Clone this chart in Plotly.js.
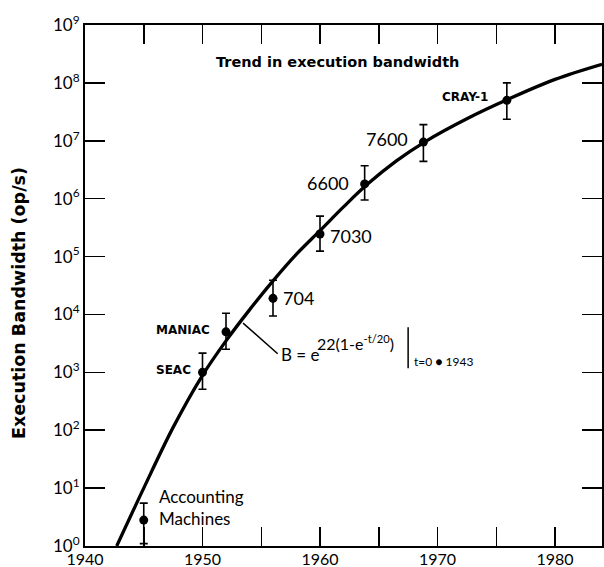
<!DOCTYPE html>
<html>
<head>
<meta charset="utf-8">
<script src="https://cdn.plot.ly/plotly-3.0.1.min.js"></script>
<style>html,body{margin:0;padding:0;background:#fff;}#chart{width:604px;height:567px;}</style>
</head>
<body>
<div id="chart"></div>
<script>
// Machines (points with error bars)
const machineNames = ['Accounting Machines', 'SEAC', 'MANIAC', '704', '7030', '6600', '7600', 'CRAY-1'];
const machineYears = [1945, 1950, 1952, 1956, 1960, 1963.8, 1968.8, 1975.9];
const machineBW    = [2.8, 1000, 5000, 19000, 2.45e5, 1.8e6, 9.5e6, 5e7];
const machineHigh  = [5.5, 2150, 10500, 39000, 5e5, 3.7e6, 1.9e7, 1e8];
const machineLow   = [1.1, 510, 2500, 9400, 1.24e5, 9.5e5, 4.4e6, 2.36e7];

// Trend curve
const trendYears = [1942.7, 1945, 1947.5, 1950, 1952, 1954, 1956, 1958, 1960, 1962, 1964, 1966.5, 1969, 1972.5, 1976, 1980, 1984];
const trendBW    = [1, 10, 112, 890, 3500, 12000, 38000, 1.1e5, 2.8e5, 7.2e5, 1.75e6, 4.5e6, 9.8e6, 2.4e7, 5.2e7, 1.15e8, 2.1e8];

// Axis ticks
const xTickVals = [1940, 1950, 1960, 1970, 1980];
const xTickText = ['1940', '1950', '1960', '1970', '1980'];
const yTickVals = [1, 10, 100, 1e3, 1e4, 1e5, 1e6, 1e7, 1e8, 1e9];
const yTickText = ['10<sup>0</sup>', '10<sup>1</sup>', '10<sup>2</sup>', '10<sup>3</sup>', '10<sup>4</sup>',
                   '10<sup>5</sup>', '10<sup>6</sup>', '10<sup>7</sup>', '10<sup>8</sup>', '10<sup>9</sup>'];

const FONT = 'Lato, "Liberation Sans", sans-serif';
const BOLD = '"DejaVu Sans", sans-serif';

const errPlus = machineHigh.map((h, i) => h - machineBW[i]);
const errMinus = machineLow.map((l, i) => machineBW[i] - l);

const traces = [
  {
    x: trendYears, y: trendBW, type: 'scatter', mode: 'lines',
    line: {color: '#000', width: 3.3, shape: 'spline', smoothing: 1},
    hoverinfo: 'skip'
  },
  {
    x: machineYears, y: machineBW, type: 'scatter', mode: 'markers',
    marker: {color: '#000', size: 9},
    error_y: {type: 'data', symmetric: false, array: errPlus, arrayminus: errMinus,
              color: '#000', thickness: 1.6, width: 4},
    text: machineNames, hoverinfo: 'text'
  }
];

const labelPos = {
  'SEAC':    {x: 1947.5, y: 3.04, size: 12, family: BOLD, weight: 'bold'},
  'MANIAC':  {x: 1948.3, y: 3.73, size: 12, family: BOLD, weight: 'bold'},
  '704':     {x: 1958.2, y: 4.28, size: 18, family: FONT, weight: 'normal'},
  '7030':    {x: 1962.6, y: 5.35, size: 18, family: FONT, weight: 'normal'},
  '6600':    {x: 1960.7, y: 6.27, size: 18, family: FONT, weight: 'normal'},
  '7600':    {x: 1965.7, y: 7.03, size: 18, family: FONT, weight: 'normal'},
  'CRAY-1':  {x: 1972.3, y: 7.75, size: 12, family: BOLD, weight: 'bold'}
};

const annotations = [];
Object.keys(labelPos).forEach(k => {
  const p = labelPos[k];
  annotations.push({x: p.x, y: p.y, xref: 'x', yref: 'y', text: k, showarrow: false,
    font: {family: p.family, size: p.size, color: '#000', weight: p.weight}});
});
annotations.push({x: 1946.1, y: 0.67, xref: 'x', yref: 'y', xanchor: 'left',
  text: 'Accounting<br>Machines', showarrow: false, align: 'left',
  font: {family: FONT, size: 17, color: '#000'}});
annotations.push({x: 1961.5, y: 8.36, xref: 'x', yref: 'y',
  text: 'Trend in execution bandwidth', showarrow: false,
  font: {family: BOLD, size: 14.5, color: '#000', weight: 'bold'}});
// Y axis title
annotations.push({x: -0.128, y: 0.466, xref: 'paper', yref: 'paper', textangle: -90,
  xanchor: 'center', yanchor: 'middle',
  text: 'Execution Bandwidth (op/s)', showarrow: false,
  font: {family: BOLD, size: 17.5, color: '#000', weight: 'bold'}});
// Formula pieces
annotations.push({x: 1956.5, y: 3.30, xref: 'x', yref: 'y', xanchor: 'left',
  text: 'B = e', showarrow: false, font: {family: FONT, size: 17, color: '#000'}});
annotations.push({x: 1959.6, y: 3.52, xref: 'x', yref: 'y', xanchor: 'left',
  text: '22(1-e<sup>-t/20</sup>)', showarrow: false, font: {family: FONT, size: 16, color: '#000'}});
annotations.push({x: 1967.8, y: 3.18, xref: 'x', yref: 'y', xanchor: 'left',
  text: 't=0 \u25CF 1943', showarrow: false, font: {family: FONT, size: 12, color: '#000'}});

const shapes = [
  // leader line from curve to formula
  {type: 'line', xref: 'x', yref: 'y', x0: 1953.45, y0: Math.pow(10, 3.85), x1: 1956.4, y1: Math.pow(10, 3.32),
   line: {color: '#000', width: 1.5}},
  // evaluation bar of formula
  {type: 'line', xref: 'x', yref: 'y', x0: 1967.5, y0: Math.pow(10, 3.07), x1: 1967.5, y1: Math.pow(10, 3.78),
   line: {color: '#000', width: 1.5}}
];

const layout = {
  width: 604, height: 567,
  margin: {l: 85, r: 2, t: 25, b: 21},
  paper_bgcolor: '#fff', plot_bgcolor: '#fff',
  showlegend: false,
  font: {family: FONT, color: '#000'},
  xaxis: {
    range: [1940, 1984], tickvals: xTickVals, ticktext: xTickText,
    ticks: 'inside', ticklen: 19, tickwidth: 1.5, tickcolor: '#000',
    minor: {dtick: 5, tick0: 1940, ticks: 'inside', ticklen: 19, tickwidth: 1.5, tickcolor: '#000', showgrid: false},
    showline: true, linewidth: 2, linecolor: '#000', mirror: 'ticks',
    showgrid: false, zeroline: false, ticklabelstandoff: -2,
    tickfont: {family: FONT, size: 16, color: '#000'}
  },
  yaxis: {
    type: 'log', range: [0, 9], tickvals: yTickVals, ticktext: yTickText,
    ticks: 'inside', ticklen: 20, tickwidth: 1.5, tickcolor: '#000',
    showline: true, linewidth: 2, linecolor: '#000', mirror: 'ticks',
    showgrid: false, zeroline: false,
    tickfont: {family: FONT, size: 17, color: '#000'}
  },
  shapes: shapes,
  annotations: annotations
};

Plotly.newPlot('chart', traces, layout, {displayModeBar: false, staticPlot: true});
</script>
</body>
</html>
